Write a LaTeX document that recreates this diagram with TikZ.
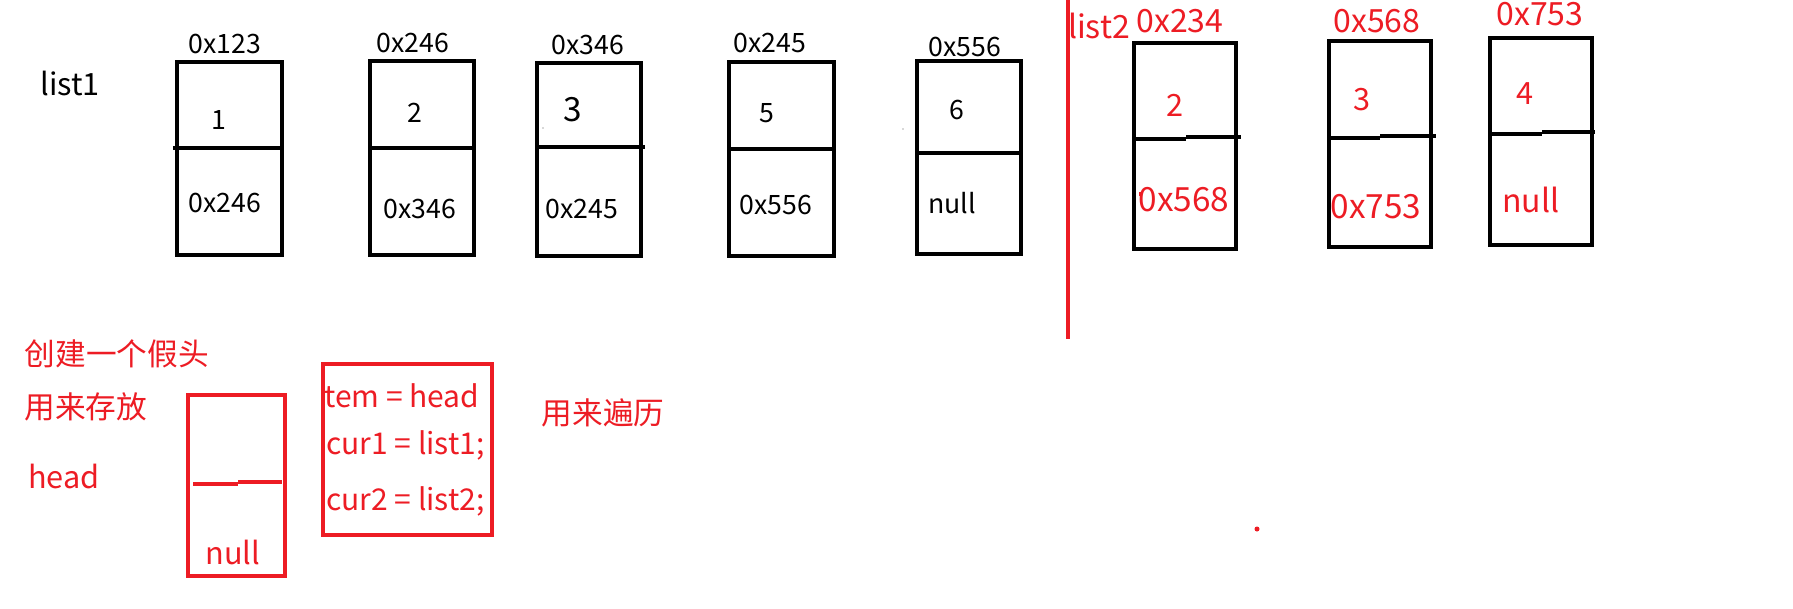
\documentclass[tikz,border=0pt]{standalone}
\usepackage{fontspec}
\setmainfont{Noto Sans CJK SC}
\definecolor{pred}{RGB}{237,28,36}
\begin{document}
\begin{tikzpicture}[x=0.75pt,y=-0.75pt,
  cellbox/.style={draw=black,line width=2.4pt},
  redbox/.style={draw=pred,line width=3.2pt},
  blk/.style={inner sep=0pt,text=black,font=\fontsize{20}{24}\selectfont},
  rtxt/.style={inner sep=0pt,text=pred,font=\fontsize{24}{28}\selectfont},
  codetxt/.style={inner sep=0pt,text=pred,anchor=base west,font=\fontsize{22.5}{28}\selectfont},
  cjk/.style={inner sep=0pt,text=pred,font=\fontsize{23}{28}\selectfont}]
\useasboundingbox (0,0) rectangle (1793,608);
\fill[white] (0,0) rectangle (1793,608);

% list1 label
\node[blk,font=\fontsize{23}{28}\selectfont] (l1) at (70,83) {list1};

% list1 boxes
\draw[cellbox] (177,62) rectangle (282,255);
\draw[cellbox] (173,148) -- (282,148);
\node[blk] (a1) at (225,44) {0x123};
\node[blk] (v1) at (219,120) {1};
\node[blk] (n1) at (225,203) {0x246};

\draw[cellbox] (370,61) rectangle (474,255);
\draw[cellbox] (370,148) -- (474,148);
\node[blk] (a2) at (413,43) {0x246};
\node[blk] (v2) at (415,113) {2};
\node[blk] (n2) at (420,209) {0x346};

\draw[cellbox] (537,63) rectangle (641,256);
\draw[cellbox] (537,147) -- (645,147);
\node[blk] (a3) at (588,45) {0x346};
\node[blk,font=\fontsize{25}{30}\selectfont] (v3) at (573,110) {3};
\node[blk] (n3) at (582,209) {0x245};

\draw[cellbox] (729,62) rectangle (834,256);
\draw[cellbox] (729,149) -- (834,149);
\node[blk] (a4) at (770,43) {0x245};
\node[blk] (v4) at (767,113) {5};
\node[blk] (n4) at (776,205) {0x556};

\draw[cellbox] (917,61) rectangle (1021,254);
\draw[cellbox] (917,153) -- (1021,153);
\node[blk] (a5) at (965,47) {0x556};
\node[blk] (v5) at (957,110) {6};
\node[blk] (n5) at (952,203) {null};

% tiny specks
\fill[gray!60] (543,128) circle (0.8);
\fill[gray!60] (903,129) circle (0.8);

% red separator
\draw[draw=pred,line width=2.6pt] (1068,0) -- (1068,339);
\node[rtxt] (l2) at (1099,26) {list2};

% list2 boxes
\draw[cellbox] (1134,43) rectangle (1236,249);
\draw[cellbox] (1134,139) -- (1186,139);
\draw[cellbox] (1186,137) -- (1241,137);
\node[rtxt] (c1) at (1180,21) {0x234};
\node[rtxt,font=\fontsize{23}{28}\selectfont] (w1) at (1175,105) {2};
\node[rtxt,font=\fontsize{25}{30}\selectfont] (m1) at (1184,200) {0x568};
\draw[pred,line width=0.8pt] (1140,196) arc (160:200:6);

\draw[cellbox] (1329,41) rectangle (1431,247);
\draw[cellbox] (1329,138) -- (1380,138);
\draw[cellbox] (1380,136) -- (1436,136);
\node[rtxt] (c2) at (1377,21) {0x568};
\node[rtxt,font=\fontsize{23}{28}\selectfont] (w2) at (1362,100) {3};
\node[rtxt,font=\fontsize{25}{30}\selectfont] (m2) at (1376,207) {0x753};

\draw[cellbox] (1490,38) rectangle (1592,245);
\draw[cellbox] (1490,134) -- (1542,134);
\draw[cellbox] (1542,132) -- (1595,132);
\node[rtxt] (c3) at (1540,14) {0x753};
\node[rtxt,font=\fontsize{23}{28}\selectfont] (w3) at (1525,94) {4};
\node[rtxt] (m3) at (1531,200) {null};

% bottom part
\node[cjk] (t1) at (117,354) {创建一个假头};
\node[cjk] (t2) at (86,407) {用来存放};
\node[rtxt,font=\fontsize{23}{28}\selectfont] (hd) at (64,476) {head};

\draw[redbox] (188,395) rectangle (285,576);
\draw[draw=pred,line width=2.4pt] (193,484) -- (238,484);
\draw[draw=pred,line width=2.4pt] (238,482) -- (282,482);
\node[rtxt,font=\fontsize{23}{28}\selectfont] (hn) at (233,552) {null};

\draw[redbox] (323,364) rectangle (492,535);
\node[codetxt] (s1) at (324,407) {tem = head};
\node[codetxt] (s2) at (326,454) {cur1 = list1;};
\node[codetxt] (s3) at (326,510) {cur2 = list2;};

\node[cjk] (t3) at (603,413) {用来遍历};

\fill[pred] (1257,529) circle (2.5);
\end{tikzpicture}
\end{document}
